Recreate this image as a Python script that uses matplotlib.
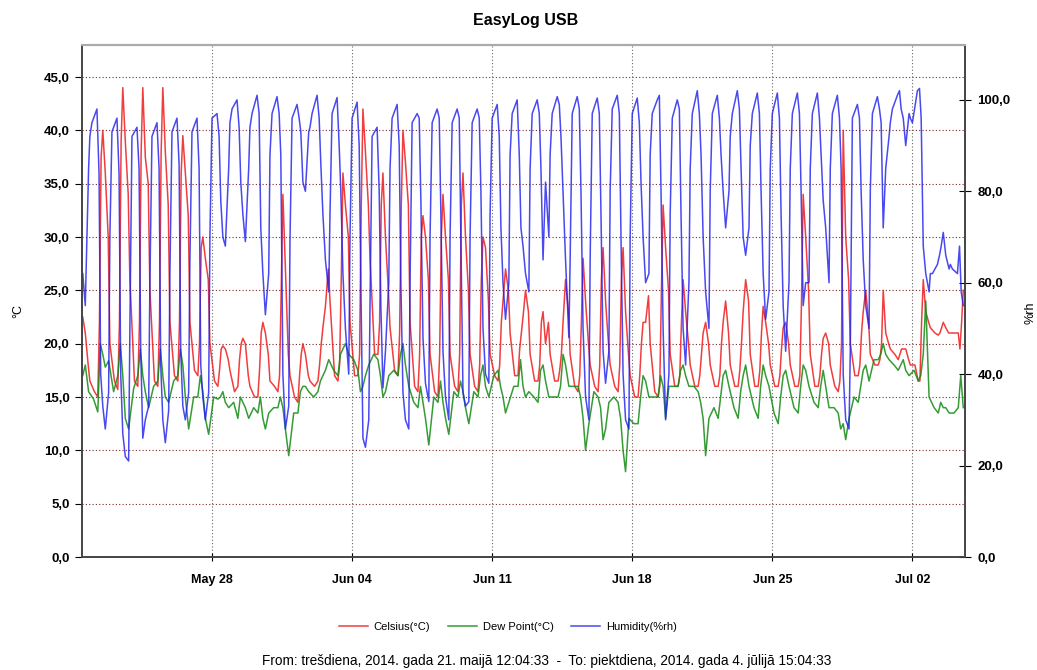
import numpy as np
import matplotlib
matplotlib.use("Agg")
import matplotlib.pyplot as plt
import matplotlib.dates as mdates
from matplotlib.ticker import FuncFormatter, MultipleLocator
from datetime import datetime, timedelta

plt.rcParams['font.family'] = ['Liberation Sans', 'DejaVu Sans']

nan = np.nan
first_day = datetime(2014, 5, 21)
t_start = datetime(2014, 5, 21, 12, 4, 33)
t_end = datetime(2014, 7, 4, 15, 4, 33)

# readings per day (May 21 .. Jul 4) at fixed hours of the day
hum_hours = [0, 6, 8.5, 10.5, 13, 16, 20, 21.5]
hum_days = [
    [nan, nan, nan, nan, 62, 55, 85, 92],
    [95, 98, 84, 40, 33, 28, 36, 70],
    [93, 96, 84, 40, 27, 22, 21, 50],
    [92, 94, 85, 45, 26, 30, 33, 60],
    [92, 95, 85, 42, 30, 25, 32, 62],
    [93, 96, 86, 45, 33, 30, 36, 65],
    [93, 96, 85, 42, 35, 30, 36, 70],
    [96, 97, 92, 78, 70, 68, 85, 95],
    [98, 100, 94, 82, 75, 69, 85, 94],
    [97, 101, 97, 72, 62, 53, 62, 88],
    [97, 100.7, 97, 88, 40, 28, 33, 69],
    [96, 99, 96, 93, 82, 80, 93, 94],
    [97, 101, 96, 86, 75, 65, 58, 75],
    [97, 100.5, 90, 80, 62, 50, 40, 70],
    [96, 99.5, 90, 60, 26, 24, 30, 55],
    [92, 94, 80, 55, 37, 45, 60, 85],
    [96, 99, 90, 60, 36, 30, 28, 60],
    [95, 97, 96, 78, 48, 38, 34, 70],
    [95, 98, 96, 75, 45, 35, 30, 70],
    [95, 98, 96, 70, 36, 33, 34, 70],
    [95, 98, 96, 80, 50, 40, 38, 75],
    [96, 99, 92, 72, 60, 52, 60, 88],
    [97, 100, 88, 72, 68, 62, 58, 85],
    [97, 100, 97, 85, 65, 82, 70, 88],
    [97, 100.7, 99, 92, 80, 65, 48, 65],
    [97, 100.7, 98, 80, 50, 35, 30, 65],
    [97, 100.4, 97, 75, 45, 38, 45, 80],
    [98, 101, 97, 70, 40, 30, 28, 70],
    [97, 100.4, 95, 82, 70, 60, 62, 88],
    [97, 100, 101, 80, 50, 30, 40, 75],
    [96, 100, 98, 75, 50, 42, 60, 85],
    [97, 102, 97, 88, 70, 58, 50, 80],
    [97, 101, 96, 88, 80, 72, 80, 92],
    [97, 102, 98, 85, 70, 66, 72, 90],
    [97, 101.5, 97, 80, 62, 52, 58, 85],
    [97, 101.5, 96, 75, 55, 45, 60, 85],
    [97, 101.5, 97, 80, 55, 60, 60, 85],
    [97, 101.5, 96, 88, 78, 72, 60, 85],
    [97, 101, 96, 85, 40, 30, 28, 45],
    [96, 99, 96, 80, 65, 55, 50, 80],
    [97, 100.7, 98, 95, 72, 85, 92, 95],
    [98, 101, 102, 98, 96, 90, 97, 96],
    [95, 102, 102.5, 96, 68, 62, 58, 62],
    [62, 64, 66, 68, 71, 66, 63, 64],
    [63, 62, 68, 58, 55, nan, nan, nan],
]

temp_hours = [3, 7, 9, 11, 13, 16, 19.5, 21.5]
temp_days = [
    [nan, nan, nan, nan, 22.5, 21, 18, 16.5],
    [15.5, 15, 22, 37.5, 40, 36, 30, 20],
    [16.5, 15.7, 22, 39, 44, 39, 34, 26],
    [16.5, 16, 22, 38, 44, 37.5, 35, 25],
    [16.5, 16, 22, 38, 44, 38, 33, 22],
    [17, 16.5, 22, 36, 39.5, 36, 32, 22],
    [17.5, 17, 20, 29, 30, 28, 26, 20],
    [16.5, 16, 17.5, 19.5, 19.8, 19.5, 18.5, 17.5],
    [15.5, 16, 18.5, 20, 20.5, 20, 17, 16],
    [15, 15, 17.5, 21, 22, 21, 19, 16.5],
    [16, 15.5, 17, 25, 34, 27, 19, 17],
    [15, 14.5, 17, 19, 20, 19, 17, 16.5],
    [16, 16.5, 18, 20, 21.5, 23.5, 27, 24],
    [17, 16.5, 18, 26, 36, 33, 30, 22],
    [17, 17, 19, 33, 42, 38, 33, 28],
    [19, 19, 22, 33, 36, 30, 25, 21.5],
    [17.5, 17, 21, 33, 40, 37, 33, 22],
    [16, 15.5, 19, 30, 32, 30, 26, 19],
    [15.5, 15, 19, 30, 34, 30, 26, 19],
    [16, 15.5, 19, 33, 36, 30, 25, 19],
    [16, 15.5, 18, 26, 30, 29, 24, 19],
    [17, 16.5, 18, 22, 24, 27, 25, 21],
    [17, 17, 19.5, 21, 22.5, 25, 23, 19],
    [16.5, 16.5, 18, 22, 23, 20, 22, 19],
    [16.5, 16.5, 17.5, 19, 22, 26, 23, 19],
    [16, 15.5, 17, 22, 28, 24, 20, 18],
    [16, 15.5, 18, 26, 29, 24, 20, 18],
    [16, 15.5, 18, 26, 29, 23, 19, 17],
    [15, 15, 17, 20, 22, 22, 24.5, 20],
    [15.5, 15, 16, 25, 33, 29, 25, 19],
    [16, 16, 17, 22, 26, 23, 20, 18],
    [16, 16, 17, 19, 21, 22, 20, 18],
    [16, 16, 17, 20, 22, 24, 21, 18],
    [16, 16, 17.5, 20, 23, 26, 24, 19],
    [16, 16, 17.5, 21, 23.5, 22, 20, 18],
    [16, 16, 17, 19.5, 21.5, 22, 20, 18],
    [16, 16, 17, 24, 34, 30, 25, 19],
    [16, 16, 17, 19, 20.5, 21, 20, 18],
    [16, 15.5, 16.5, 20, 40, 30, 26, 20],
    [17, 17, 18, 21, 23, 25, 22, 19],
    [18, 18, 18.5, 20, 25, 21, 20, 19.5],
    [19, 18.5, 19, 19.5, 19.5, 19.5, 18.5, 18],
    [18, 16.5, 16.5, 22, 26, 23, 22, 21.5],
    [21, 20.8, 21, 21.5, 22, 21.5, 21, 21],
    [21, 21, 19.5, 22, 25, nan, nan, nan],
]

dew_hours = [2, 7, 10, 13, 16, 20]
dew_days = [
    [nan, nan, nan, 17, 18, 15.5],
    [14.8, 13.6, 20, 19, 17.8, 18.4],
    [15.5, 17, 20, 17, 13, 12],
    [15.8, 17, 19.5, 17, 15.5, 14],
    [16, 16.5, 19.5, 17, 15, 14.5],
    [16.5, 17, 19.5, 18, 15, 12],
    [15, 15, 17, 15.5, 13, 11.5],
    [15, 14.8, 15, 15.5, 14.5, 14],
    [14.5, 13, 15, 14.5, 14, 13],
    [14, 13.5, 15, 13, 12, 13.5],
    [14, 14, 15, 14, 12, 9.5],
    [13.5, 13.5, 15.5, 16, 16, 15.5],
    [15, 15.5, 16.5, 17, 17.5, 18.5],
    [17.5, 17, 19, 19.5, 20, 19],
    [18.5, 17.5, 15.5, 16, 17, 18],
    [19, 18.5, 17, 15, 15.5, 17],
    [17.5, 17, 19, 20, 18, 16],
    [14.5, 14, 16, 14.5, 13, 10.5],
    [15, 14.5, 16.5, 14.5, 13, 11.5],
    [15.5, 15, 16.5, 15.5, 14, 12.5],
    [15.5, 15, 17, 18, 16, 15],
    [17, 17.5, 16, 15, 13.5, 14.5],
    [16, 16, 18.5, 16, 15, 15.5],
    [15, 14.5, 17.5, 18, 16.5, 15],
    [15, 15, 16, 19, 18, 16],
    [16, 16, 15, 13, 10, 12.5],
    [15.5, 15, 14, 11, 12, 14.5],
    [15, 14.5, 13, 10, 8, 13],
    [12.5, 12.5, 15, 17, 16.5, 15],
    [15, 15, 17, 16, 13, 16],
    [16, 16, 17.5, 18, 17, 16],
    [16, 15.5, 14.5, 13, 9.5, 13],
    [14, 13, 15, 17, 17.5, 16],
    [14, 13, 15.5, 17, 18, 16],
    [14, 13, 16, 18, 17, 16],
    [13.5, 12.5, 15, 17, 17.5, 16],
    [14, 13.5, 16, 18, 17.5, 16],
    [14.5, 14, 16, 17.5, 16, 14],
    [14, 13.5, 12, 12.5, 11, 13],
    [15, 14.5, 16, 17.5, 18, 16.5],
    [18.5, 18.5, 19, 20, 19, 18.5],
    [18, 17.5, 18, 18.5, 17.5, 17],
    [17.5, 16.5, 17, 19, 24, 15],
    [14, 13.5, 14.5, 14, 14, 13.5],
    [13.5, 14, 17, 14, nan, nan],
]

footer = ("From: trešdiena, 2014. gada 21. maijā 12:04:33  -  "
          "To: piektdiena, 2014. gada 4. jūlijā 15:04:33")


def series(hours, rows):
    ts, vs = [], []
    for d, row in enumerate(rows):
        for h, v in zip(hours, row):
            t = first_day + timedelta(days=d, hours=h)
            if np.isnan(v) or t < t_start or t > t_end:
                continue
            ts.append(t)
            vs.append(v)
    return ts, vs


def comma(v, pos):
    return f"{v:.1f}".replace('.', ',')


fig = plt.figure(figsize=(10.37, 6.70), dpi=100)
ax = fig.add_axes([82 / 1037, 1 - 557 / 670, 883 / 1037, 512 / 670])
ax2 = ax.twinx()

tt, tv = series(temp_hours, temp_days)
dt, dv = series(dew_hours, dew_days)
ht, hv = series(hum_hours, hum_days)

l1, = ax.plot(tt, tv, color='#ee1c1c', lw=1.1, alpha=0.85, label='Celsius(°C)')
l2, = ax.plot(dt, dv, color='#138a13', lw=1.1, alpha=0.85, label='Dew Point(°C)')
l3, = ax2.plot(ht, hv, color='#1c1cee', lw=1.1, alpha=0.8, label='Humidity(%rh)')

ax.set_xlim(t_start, t_end)
ax.set_ylim(0, 48)
ax2.set_ylim(0, 112)

ax.yaxis.set_major_locator(MultipleLocator(5))
ax.yaxis.set_major_formatter(FuncFormatter(comma))
ax2.yaxis.set_major_locator(MultipleLocator(20))
ax2.yaxis.set_major_formatter(FuncFormatter(comma))
ax.xaxis.set_major_locator(mdates.WeekdayLocator(byweekday=mdates.WE))
ax.xaxis.set_major_formatter(mdates.DateFormatter('%b %d'))

ax.grid(axis='y', color='#7a2a2a', linestyle=(0, (1, 2)), lw=0.8)
ax.grid(axis='x', color='#666666', linestyle=(0, (1, 2)), lw=0.8)

ax.tick_params(axis='y', direction='out', length=5, pad=4, labelsize=9.5)
ax.tick_params(axis='x', direction='inout', length=6, pad=9, labelsize=9)
ax2.tick_params(axis='y', direction='inout', length=8, pad=5, labelsize=9.5)
for lab in ax.get_xticklabels() + ax.get_yticklabels() + ax2.get_yticklabels():
    lab.set_fontweight('bold')

for a in (ax, ax2):
    for side in ('left', 'right', 'bottom'):
        a.spines[side].set_color('#444444')
        a.spines[side].set_linewidth(1.2)
    a.spines['top'].set_color('#aaaaaa')
    a.spines['top'].set_linewidth(1.5)

fig.text(526 / 1037, 1 - 20 / 670, 'EasyLog USB', ha='center', va='center',
         fontsize=11.5, fontweight='bold')
fig.text(18 / 1037, 1 - 311 / 670, '°C', rotation=90, ha='center', va='center',
         fontsize=9)
fig.text(1030 / 1037, 1 - 313 / 670, '%rh', rotation=90, ha='center',
         va='center', fontsize=9)
fig.legend([l1, l2, l3], [l1.get_label(), l2.get_label(), l3.get_label()],
           loc='center', bbox_to_anchor=(508 / 1037, 1 - 627 / 670), ncol=3,
           frameon=False, fontsize=8, handlelength=2.6, handletextpad=0.5,
           columnspacing=1.6)
fig.text(547 / 1037, 1 - 661 / 670, footer, ha='center', va='center',
         fontsize=9.8)

fig.savefig('out.png', dpi=100)
